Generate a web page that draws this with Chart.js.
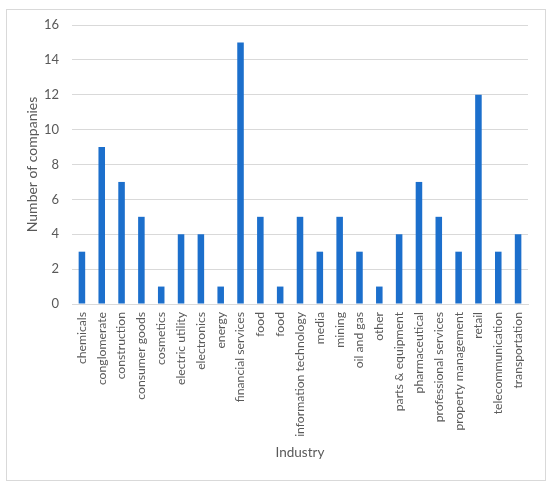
<!DOCTYPE html>
<html>
<head>
<meta charset="utf-8">
<script src="https://cdn.jsdelivr.net/npm/chart.js@4"></script>
<style>
html,body{margin:0;padding:0;background:#fff;}
#frame{position:absolute;left:6px;top:9px;width:538px;height:470px;border:1px solid #d9d9d9;}
#wrap{position:absolute;left:0;top:0;width:550px;height:488px;}
</style>
</head>
<body>
<div id="frame"></div>
<div id="wrap"><canvas id="c" width="550" height="488"></canvas></div>
<script>
const categories = ["chemicals","conglomerate","construction","consumer goods","cosmetics","electric utility","electronics","energy","financial services","food","food","information technology","media","mining","oil and gas","other","parts & equipment","pharmaceutical","professional services","property management","retail","telecommunication","transportation"];
const companies = [3,9,7,5,1,4,4,1,15,5,1,5,3,5,3,1,4,7,5,3,12,3,4];
const yTicks = [0,2,4,6,8,10,12,14,16];

const textColor = '#595959';
const fontFamily = 'Lato, "Open Sans", sans-serif';

new Chart(document.getElementById('c'), {
  type: 'bar',
  data: {
    labels: categories,
    datasets: [{
      data: companies,
      backgroundColor: '#1C6FCC',
      borderWidth: 0,
      categoryPercentage: 1,
      barPercentage: 0.33
    }]
  },
  options: {
    responsive: false,
    animation: false,
    devicePixelRatio: 1,
    layout: { padding: { left: 20, right: 22, top: 25, bottom: 23 } },
    plugins: { legend: { display: false }, tooltip: { enabled: false } },
    scales: {
      x: {
        grid: { display: false, drawTicks: false },
        border: { display: true, color: '#d9d9d9', width: 1 },
        ticks: {
          color: textColor, font: { family: fontFamily, size: 12.2 },
          minRotation: 90, maxRotation: 90, autoSkip: false, padding: 8
        },
        title: { display: true, text: 'Industry', color: textColor, font: { family: fontFamily, size: 13.5 } },
        afterFit(scale) { scale.height = 161; }
      },
      y: {
        min: 0, max: 16,
        afterBuildTicks(scale) { scale.ticks = yTicks.map(v => ({ value: v })); },
        grid: { color: '#d9d9d9', drawTicks: false },
        border: { display: false },
        ticks: { color: textColor, font: { family: fontFamily, size: 13 }, padding: 13 },
        title: { display: true, text: 'Number of companies', color: textColor, font: { family: fontFamily, size: 14 } },
        afterFit(scale) { scale.width = 52; }
      }
    }
  }
});
</script>
</body>
</html>
